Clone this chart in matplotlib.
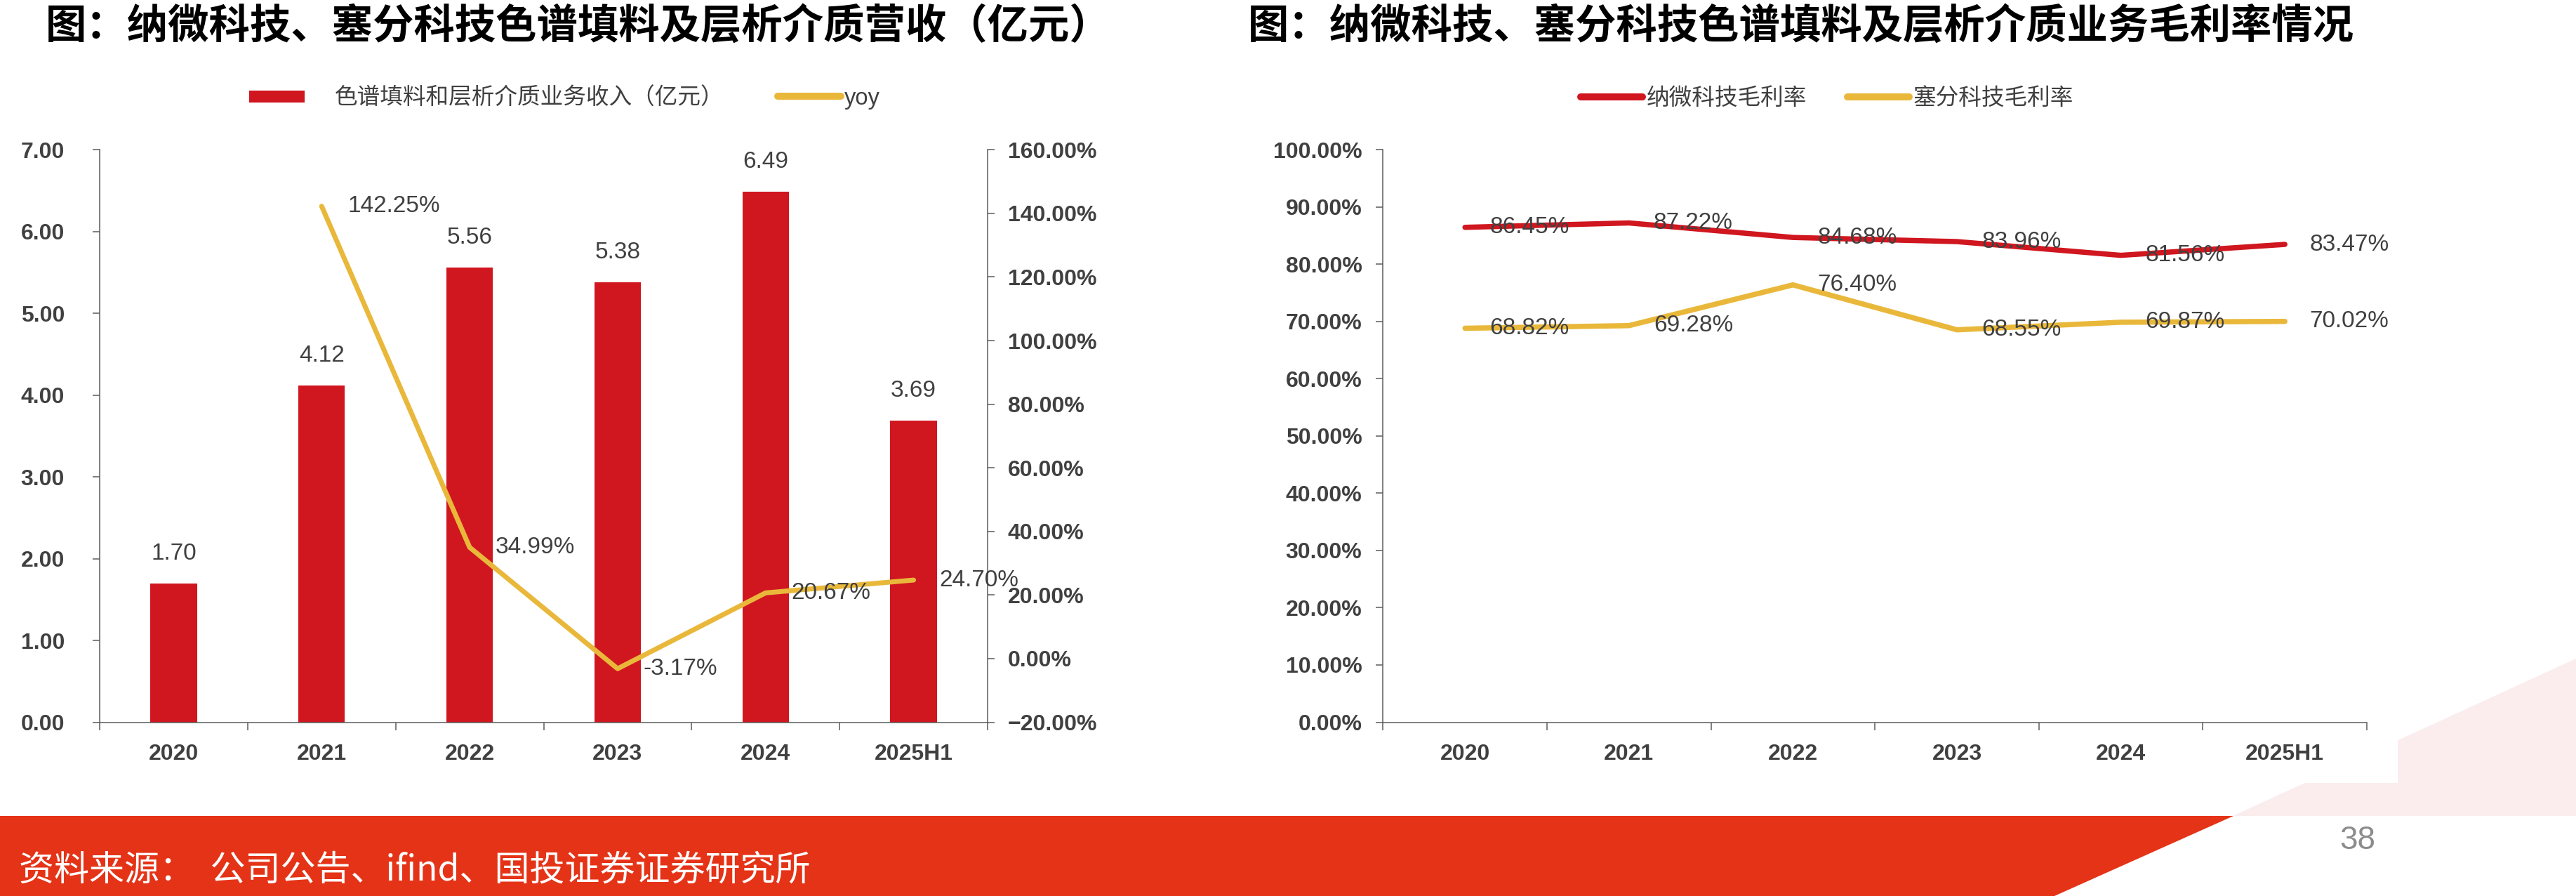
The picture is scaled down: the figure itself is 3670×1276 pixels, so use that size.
import matplotlib
matplotlib.use('Agg')
import matplotlib.pyplot as plt
import numpy as np
from matplotlib.patches import Polygon, Patch
from matplotlib.lines import Line2D
from matplotlib.ticker import FuncFormatter, MultipleLocator, FixedLocator

# ---------------- data ----------------
categories = ['2020', '2021', '2022', '2023', '2024', '2025H1']
revenue = [1.70, 4.12, 5.56, 5.38, 6.49, 3.69]          # 亿元
yoy = [np.nan, 142.25, 34.99, -3.17, 20.67, 24.70]      # %
nawei_margin = [86.45, 87.22, 84.68, 83.96, 81.56, 83.47]   # %
saifen_margin = [68.82, 69.28, 76.40, 68.55, 69.87, 70.02]  # %

title_left = '图：纳微科技、塞分科技色谱填料及层析介质营收（亿元）'
title_right = '图：纳微科技、塞分科技色谱填料及层析介质业务毛利率情况'
legend_bar = '色谱填料和层析介质业务收入（亿元）'
legend_yoy = 'yoy'
legend_nawei = '纳微科技毛利率'
legend_saifen = '塞分科技毛利率'
source_text = '资料来源：  公司公告、ifind、国投证券证券研究所'
page_no = '38'

# ---------------- style ----------------
W, H = 3670, 1276
DPI = 100
PX = 72.0 / DPI  # points per pixel

RED = '#D0161F'
YEL = '#E9B83B'
FOOT = '#E53317'
PINK = '#FBEDED'
TXT = '#404040'
AXC = '#595959'
CJK = ['Noto Sans CJK SC', 'DejaVu Sans']
NUM = ['Liberation Sans', 'DejaVu Sans']

plt.rcParams['font.family'] = CJK
plt.rcParams['axes.unicode_minus'] = True

fig = plt.figure(figsize=(W / DPI, H / DPI), dpi=DPI)
fig.patch.set_facecolor('white')


def fx(x):
    return x / W


def fy(y):
    return 1 - y / H


def px_axes(x0, x1, ytop, ybot):
    return fig.add_axes([fx(x0), fy(ybot), (x1 - x0) / W, (ybot - ytop) / H])


def style_xaxis(ax):
    n = len(categories)
    ax.set_xlim(-0.5, n - 0.5)
    ax.xaxis.set_major_locator(FixedLocator(np.arange(-0.5, n, 1.0)))
    ax.xaxis.set_major_formatter(FuncFormatter(lambda v, p: ''))
    ax.xaxis.set_minor_locator(FixedLocator(np.arange(n)))
    ax.set_xticklabels(categories, minor=True)
    ax.tick_params(axis='x', which='major', direction='out', length=11 * PX,
                   width=1.5 * PX, color=AXC)
    ax.tick_params(axis='x', which='minor', length=0, pad=30 * PX,
                   labelsize=23, labelcolor=TXT)
    for lab in ax.get_xticklabels(minor=True):
        lab.set_fontfamily(NUM)
        lab.set_fontweight('bold')


# ================= left chart =================
axL = px_axes(142, 1407, 213.3, 1028.5)
axL.set_facecolor('none')
x = np.arange(len(categories))
axL.bar(x, revenue, width=0.315, color=RED, zorder=2)
axL.set_ylim(0, 7)
axL.yaxis.set_major_locator(MultipleLocator(1))
axL.yaxis.set_major_formatter(FuncFormatter(lambda v, p: f'{v:.2f}'))
for s in ['top', 'right']:
    axL.spines[s].set_visible(False)
for s in ['left', 'bottom']:
    axL.spines[s].set_color(AXC)
    axL.spines[s].set_linewidth(1.5 * PX)
axL.tick_params(axis='y', direction='out', length=10 * PX, width=1.5 * PX,
                color=AXC, pad=40 * PX, labelsize=23, labelcolor=TXT)
for lab in axL.get_yticklabels():
    lab.set_fontfamily(NUM)
    lab.set_fontweight('bold')
style_xaxis(axL)

for i, v in enumerate(revenue):
    axL.annotate(f'{v:.2f}', xy=(i, v), xytext=(0, 42 * PX), textcoords='offset points',
                 ha='center', va='center', fontsize=24, color=TXT, family=NUM)

axR2 = axL.twinx()
axR2.set_facecolor('none')
axR2.set_ylim(-20, 160)
axR2.yaxis.set_major_locator(MultipleLocator(20))
axR2.yaxis.set_major_formatter(FuncFormatter(lambda v, p: f'{v:.2f}%'.replace('-', '\u2212')))
for s in ['top', 'left', 'bottom']:
    axR2.spines[s].set_visible(False)
axR2.spines['right'].set_color(AXC)
axR2.spines['right'].set_linewidth(1.5 * PX)
axR2.tick_params(axis='y', direction='out', length=10 * PX, width=1.5 * PX,
                 color=AXC, pad=18.5 * PX, labelsize=23, labelcolor=TXT)
for lab in axR2.get_yticklabels():
    lab.set_fontfamily(NUM)
    lab.set_fontweight('bold')
axR2.plot(x, yoy, color=YEL, lw=7 * PX, solid_capstyle='round', solid_joinstyle='round', zorder=3)
for i, v in enumerate(yoy):
    if np.isnan(v):
        continue
    axR2.annotate(f'{v:.2f}%', xy=(i, v), xytext=(37 * PX, 0), textcoords='offset points',
                  ha='left', va='center', fontsize=24, color=TXT, family=NUM)

# left legends
fs_leg = 23.5
fpx = fs_leg / PX
leg1 = fig.legend([Patch(facecolor=RED, edgecolor='none')], [legend_bar],
                  loc='center left', bbox_to_anchor=(fx(355), fy(140)), frameon=False,
                  fontsize=fs_leg, handlelength=79 / fpx, handleheight=15 / fpx,
                  handletextpad=43 / fpx, borderpad=0, borderaxespad=0)
for t in leg1.get_texts():
    t.set_color(TXT)
leg2 = fig.legend([Line2D([], [], color=YEL, lw=10 * PX, solid_capstyle='round')], [legend_yoy],
                  loc='center left', bbox_to_anchor=(fx(1108), fy(140)), frameon=False,
                  handlelength=90 / fpx, handletextpad=5 / fpx,
                  borderpad=0, borderaxespad=0, prop={'family': NUM, 'size': fs_leg})
for t in leg2.get_texts():
    t.set_color(TXT)

# ================= right chart =================
axM = px_axes(1970.4, 3372, 213.3, 1028.5)
axM.set_facecolor('none')
axM.set_ylim(0, 100)
axM.yaxis.set_major_locator(MultipleLocator(10))
axM.yaxis.set_major_formatter(FuncFormatter(lambda v, p: f'{v:.2f}%'))
for s in ['top', 'right']:
    axM.spines[s].set_visible(False)
for s in ['left', 'bottom']:
    axM.spines[s].set_color(AXC)
    axM.spines[s].set_linewidth(1.5 * PX)
axM.tick_params(axis='y', direction='out', length=10 * PX, width=1.5 * PX,
                color=AXC, pad=20 * PX, labelsize=23, labelcolor=TXT)
for lab in axM.get_yticklabels():
    lab.set_fontfamily(NUM)
    lab.set_fontweight('bold')
style_xaxis(axM)

axM.plot(x, nawei_margin, color=RED, lw=7.5 * PX, solid_capstyle='round', solid_joinstyle='round', zorder=3)
axM.plot(x, saifen_margin, color=YEL, lw=7.5 * PX, solid_capstyle='round', solid_joinstyle='round', zorder=3)
for series in (nawei_margin, saifen_margin):
    for i, v in enumerate(series):
        axM.annotate(f'{v:.2f}%', xy=(i, v), xytext=(35 * PX, 0), textcoords='offset points',
                     ha='left', va='center', fontsize=24, color=TXT, family=NUM, zorder=4)

leg3 = fig.legend([Line2D([], [], color=RED, lw=10 * PX, solid_capstyle='round')], [legend_nawei],
                  loc='center left', bbox_to_anchor=(fx(2252), fy(140)), frameon=False,
                  fontsize=fs_leg, handlelength=88 / fpx, handletextpad=6 / fpx,
                  borderpad=0, borderaxespad=0)
leg4 = fig.legend([Line2D([], [], color=YEL, lw=10 * PX, solid_capstyle='round')], [legend_saifen],
                  loc='center left', bbox_to_anchor=(fx(2632), fy(140)), frameon=False,
                  fontsize=fs_leg, handlelength=88 / fpx, handletextpad=6 / fpx,
                  borderpad=0, borderaxespad=0)
for lg in (leg3, leg4):
    for t in lg.get_texts():
        t.set_color(TXT)

# ================= titles =================
fig.text(fx(65), fy(38), title_left, fontsize=42, fontweight='bold', color='black',
         ha='left', va='center', family=CJK)
fig.text(fx(1778), fy(38), title_right, fontsize=42, fontweight='bold', color='black',
         ha='left', va='center', family=CJK)

# ================= footer decoration =================
def figpoly(pts, color, z):
    p = Polygon([(fx(a), fy(b)) for a, b in pts], closed=True, transform=fig.transFigure,
                facecolor=color, edgecolor='none', zorder=z)
    fig.patches.append(p)

figpoly([(3181, 1162), (3670, 938), (3670, 1162)], PINK, -10)
figpoly([(3000, 900), (3416, 900), (3416, 1115), (3000, 1115)], 'white', -9)
figpoly([(0, 1162), (3182, 1162), (2927, 1276), (0, 1276)], FOOT, -8)

fig.text(fx(27), fy(1240), source_text, fontsize=36, color='white', ha='left', va='center',
         family=CJK, fontweight='light')
fig.text(fx(3359), fy(1197), page_no, fontsize=33, color='#8C8C8C', ha='center', va='center',
         family=NUM)

fig.savefig('out.png', dpi=DPI, facecolor='white')
